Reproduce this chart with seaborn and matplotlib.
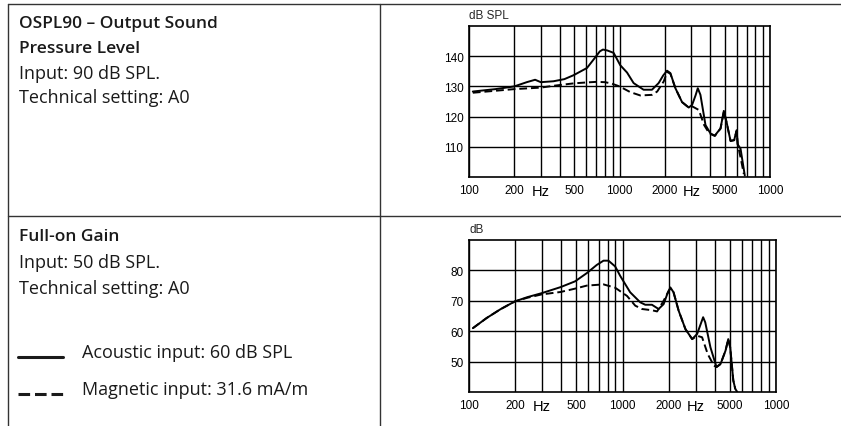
import numpy as np
import pandas as pd
import matplotlib
matplotlib.use('Agg')
import matplotlib.pyplot as plt
import seaborn as sns
from matplotlib.lines import Line2D
from matplotlib.ticker import NullLocator

# figure size in pixels (dpi 100)
W, H = 841, 427

# gridline frequencies and their labels (the last "1000" is as printed)
grid_freqs = [100, 200, 300, 400, 500, 600, 700, 800, 900,
              1000, 2000, 3000, 4000, 5000, 6000, 7000, 8000, 9000, 10000]
grid_labels = ['100', '200', 'Hz', '', '500', '', '', '', '',
               '1000', '2000', 'Hz', '', '5000', '', '', '', '', '1000']

# OSPL90 panel
ospl_freq_ac = [106, 150, 200, 242, 275, 300, 364, 430, 495, 608, 680, 740, 776, 830,
                914, 1012, 1122, 1241, 1445, 1643, 1820, 1950, 2070, 2178, 2352, 2604,
                2884, 3038, 3200, 3313, 3450, 3727, 4024, 4300, 4690, 4934, 5140, 5470,
                5780, 6000, 6100, 6370, 6800]
ospl_db_ac = [128.3, 129.1, 130.0, 131.4, 132.2, 131.4, 131.7, 132.4, 133.7, 136.1, 139.2,
              141.6, 142.2, 141.9, 141.1, 137.0, 134.6, 131.1, 128.9, 128.9, 131.1, 133.6,
              135.2, 134.4, 129.4, 124.8, 123.0, 123.9, 127.0, 129.4, 127.2, 117.2, 114.4,
              113.7, 116.1, 121.9, 118.3, 111.9, 112.2, 115.5, 110.8, 109.4, 100.5]
ospl_freq_mag = [106, 200, 300, 364, 495, 600, 700, 800, 880, 1000, 1180, 1375, 1643,
                 1780, 1970, 2070, 2178, 2352, 2604, 2884, 3038, 3365, 3650, 3950, 4300,
                 4690, 4934, 5140, 5470, 5780, 6000, 6100, 6370, 6700]
ospl_db_mag = [127.9, 129.1, 129.6, 130.2, 131.0, 131.3, 131.5, 131.4, 131.0, 130.0,
               128.1, 127.0, 127.2, 128.3, 131.7, 134.8, 134.2, 129.4, 124.8, 123.0,
               123.4, 122.2, 117.2, 114.4, 113.6, 116.0, 121.6, 118.1, 112.0, 112.2,
               115.2, 111.0, 106.5, 101.0]

# Full-on gain panel
gain_freq_ac = [106, 130, 160, 199, 240, 297, 395, 491, 585, 680, 752, 810, 896, 966,
                1122, 1305, 1407, 1555, 1718, 1853, 1950, 2050, 2150, 2323, 2570, 2843,
                3064, 3352, 3460, 3740, 4094, 4350, 4690, 4886, 5030, 5270, 5430, 5600]
gain_db_ac = [61.0, 64.3, 67.2, 69.8, 71.2, 72.5, 74.5, 76.4, 79.1, 81.8, 83.2, 83.2,
              81.3, 78.2, 72.8, 69.5, 68.7, 68.7, 67.3, 68.9, 72.0, 74.4, 72.8, 66.7,
              60.7, 57.4, 59.1, 64.6, 62.9, 54.7, 48.2, 49.2, 53.6, 57.4, 54.7, 43.8,
              41.0, 40.0]
gain_freq_mag = [106, 130, 160, 199, 240, 297, 395, 491, 585, 752, 896, 1070, 1211, 1340,
                 1555, 1680, 1853, 2000, 2050, 2150, 2323, 2570, 2843, 3064, 3300, 3590,
                 3935, 4094, 4350, 4690, 4886, 5030, 5270, 5430]
gain_db_mag = [61.0, 64.3, 67.2, 69.8, 71.0, 72.1, 72.9, 74.0, 75.0, 75.4, 74.3, 71.6,
               68.4, 67.3, 66.9, 66.5, 70.0, 73.3, 74.0, 72.8, 66.7, 60.7, 57.4, 58.5,
               58.0, 52.5, 48.7, 48.2, 49.2, 53.6, 57.4, 54.7, 43.8, 41.0]


def fx(px):
    return px / W


def fy(py):
    return 1 - py / H


def make_frame(f_ac, db_ac, f_mag, db_mag):
    ac = pd.DataFrame({'freq': f_ac, 'db': db_ac, 'input': 'acoustic'})
    mag = pd.DataFrame({'freq': f_mag, 'db': db_mag, 'input': 'magnetic'})
    return pd.concat([ac, mag], ignore_index=True)


def response_panel(ax, df, ylim, yticks, unit):
    ax.set_xscale('log')
    sns.lineplot(data=df, x='freq', y='db', style='input',
                 dashes={'acoustic': '', 'magnetic': (4, 2)},
                 color='black', linewidth=1.4, estimator=None, sort=False,
                 legend=False, ax=ax)
    ax.set_xlim(100, 10000)
    ax.set_ylim(*ylim)
    ax.xaxis.set_minor_locator(NullLocator())
    ax.set_xticks(grid_freqs)
    ax.set_xticklabels(grid_labels)
    ax.set_yticks(yticks)
    ax.set_xlabel('')
    ax.set_ylabel('')
    ax.grid(True, which='major', color='black', linewidth=1.0)
    ax.set_axisbelow(True)
    for s in ax.spines.values():
        s.set_visible(True)
        s.set_color('black')
        s.set_linewidth(1.2)
    ax.tick_params(axis='both', which='both', length=0, labelsize=8.5,
                   labelcolor='black')
    ax.tick_params(axis='x', pad=5)
    ax.tick_params(axis='y', pad=4)
    for lab in ax.get_xticklabels() + ax.get_yticklabels():
        lab.set_family('Liberation Sans')
        if lab.get_text() == 'Hz':
            lab.set_fontsize(10.5)
    ax.text(0, 1.03, unit, transform=ax.transAxes, ha='left', va='bottom',
            fontsize=8.5, family='Liberation Sans')


sns.set_style('white')
fig = plt.figure(figsize=(W / 100, H / 100), dpi=100)

ax1 = fig.add_axes([fx(469), fy(178), fx(770) - fx(469), fy(27) - fy(178)])
ax2 = fig.add_axes([fx(469), fy(393), fx(776) - fx(469), fy(241) - fy(393)])

response_panel(ax1, make_frame(ospl_freq_ac, ospl_db_ac, ospl_freq_mag, ospl_db_mag),
               (100, 150), [110, 120, 130, 140], 'dB SPL')
response_panel(ax2, make_frame(gain_freq_ac, gain_db_ac, gain_freq_mag, gain_db_mag),
               (40, 90), [50, 60, 70, 80], 'dB')

# table rules
rule = dict(color='#333333', linewidth=1.0)
fig.add_artist(Line2D([fx(8), 1], [fy(5), fy(5)], **rule))
fig.add_artist(Line2D([fx(8), 1], [fy(217), fy(217)], **rule))
fig.add_artist(Line2D([fx(8), fx(8)], [fy(5), 0], **rule))
fig.add_artist(Line2D([fx(379.5), fx(379.5)], [fy(5), 0], **rule))

# left column text
txt = dict(family='Open Sans', fontsize=13, color='#1a1a1a', ha='left', va='center')
bold = dict(txt, fontsize=12.5, fontweight='semibold')
x0 = fx(19)
fig.text(x0, fy(24), 'OSPL90 – Output Sound', **bold)
fig.text(x0, fy(49), 'Pressure Level', **bold)
fig.text(x0, fy(74), 'Input: 90 dB SPL.', **txt)
fig.text(x0, fy(98), 'Technical setting: A0', **txt)

fig.text(x0, fy(237), 'Full-on Gain', **bold)
fig.text(x0, fy(263), 'Input: 50 dB SPL.', **txt)
fig.text(x0, fy(289), 'Technical setting: A0', **txt)

fig.text(fx(82), fy(353), 'Acoustic input: 60 dB SPL', **txt)
fig.text(fx(82), fy(390), 'Magnetic input: 31.6 mA/m', **txt)
fig.add_artist(Line2D([fx(18), fx(63)], [fy(358), fy(358)], color='#1a1a1a', linewidth=2.2))
fig.add_artist(Line2D([fx(18), fx(63)], [fy(395), fy(395)], color='#1a1a1a', linewidth=2.2,
                      dashes=(3.8, 1.6)))

fig.savefig('out.png', dpi=100)
